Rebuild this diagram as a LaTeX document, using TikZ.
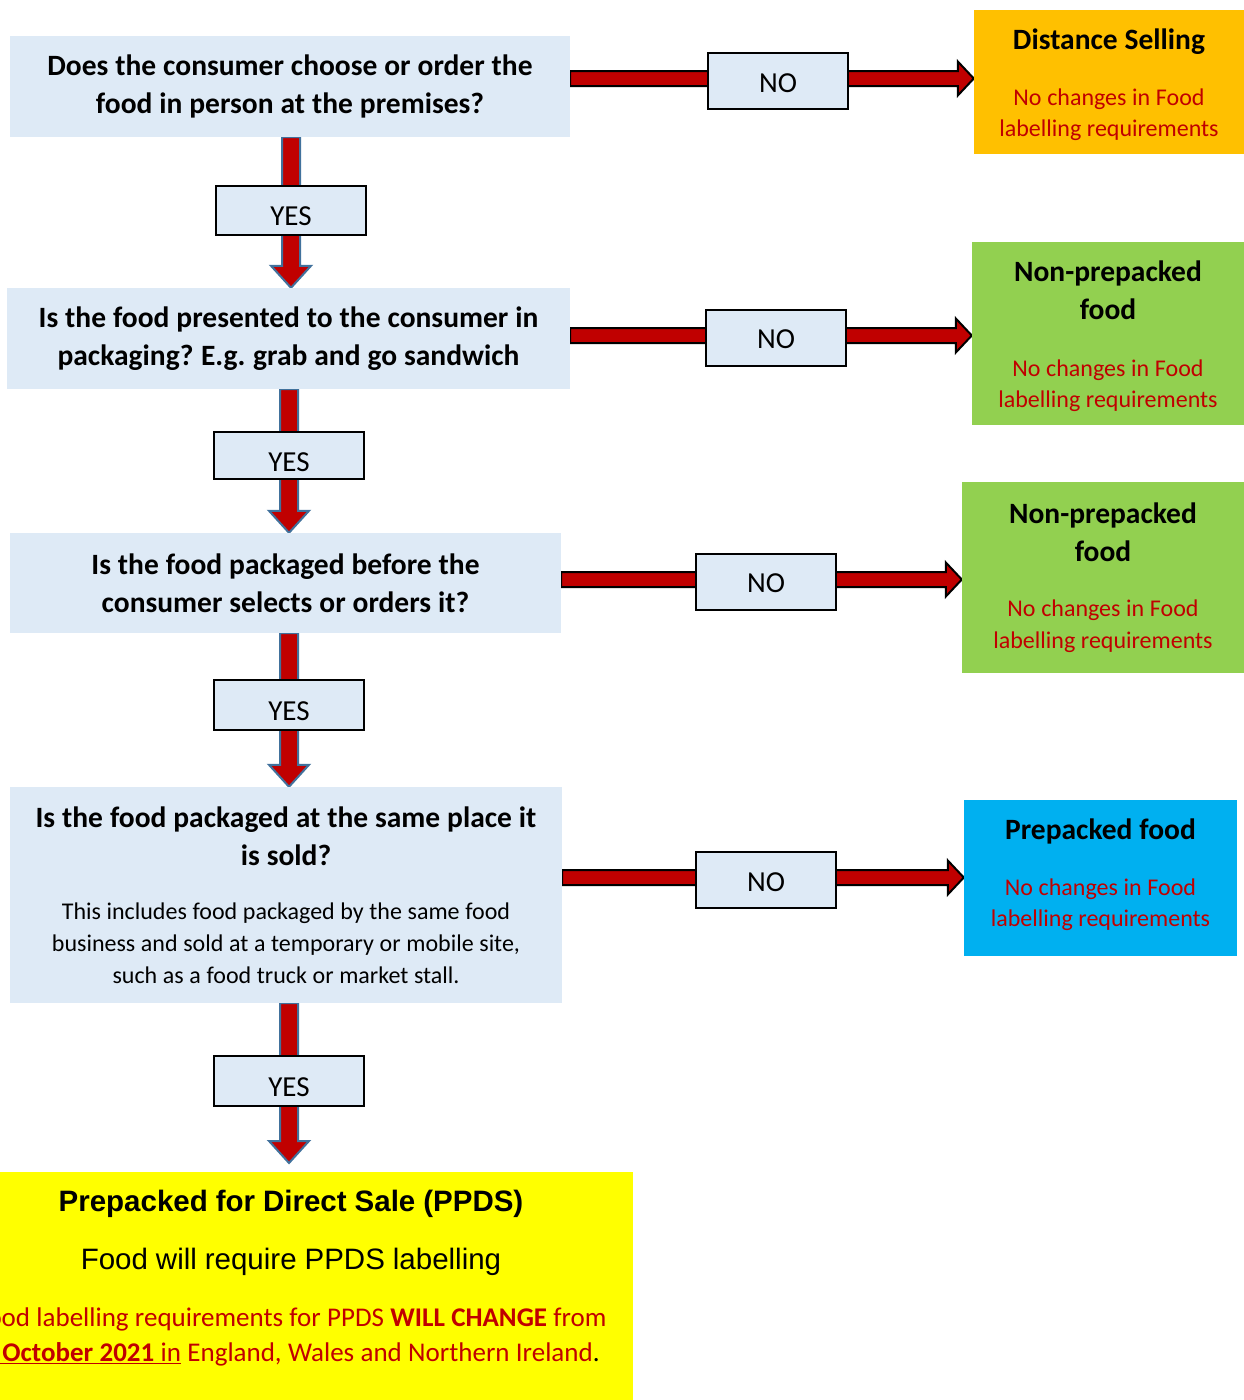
\documentclass[tikz,border=0pt]{standalone}
\usepackage{fontspec}
\setmainfont{Carlito}
\newfontfamily\arialf{Liberation Sans}
\usetikzlibrary{backgrounds,calc}
\definecolor{qblue}{HTML}{DEEAF6}
\definecolor{dred}{HTML}{C00000}
\definecolor{orangebox}{HTML}{FFC000}
\definecolor{greenbox}{HTML}{92D050}
\definecolor{cyanbox}{HTML}{00B0F0}
\definecolor{yellowbox}{HTML}{FFFF00}
\definecolor{outblue}{HTML}{41719C}
\tikzset{
  qbox/.style={fill=qblue, draw=none, inner sep=0pt, align=center},
  answerbox/.style={fill=qblue, draw=black, line width=1.5pt, inner sep=0pt,
    minimum width=140, minimum height=56, text height=20pt, text depth=6pt,
    font=\fontsize{29}{32}\selectfont},
  resbox/.style={draw=none, inner sep=0pt, align=center},
  varrow/.style={fill=dred, draw=outblue, line width=2pt, line join=miter},
  harrow/.style={fill=dred, draw=black, line width=2pt, line join=miter},
}
\newcommand\wordsp{\spaceskip=0.235em\relax\xspaceskip=0.26em\relax}
\newcommand\arialsp{\spaceskip=0.27em\relax\xspaceskip=0.3em\relax}
\newcommand\qtitle{\fontsize{29.5}{38}\selectfont\bfseries\wordsp}
\newcommand\redtxt{\fontsize{24}{31.5}\selectfont\mdseries\color{dred}\wordsp}
\newcommand\lowtxt[2]{\raisebox{-#1pt}{#2}}
\newcommand\topstrut[1]{\rule{0pt}{#1pt}}
\newcommand\botstrut[1]{\rule[-#1pt]{0pt}{#1pt}}
\newcommand\varr[3]{%
  \draw[varrow] let \p1=(#1), \p2=(#2), \p3=(#3) in
  (\x1-9pt,\y2) -- (\x1-9pt,\y3+22pt) -- (\x1-20pt,\y3+22pt) -- (\x1,\y3)
  -- (\x1+20pt,\y3+22pt) -- (\x1+9pt,\y3+22pt) -- (\x1+9pt,\y2) -- cycle;}
\newcommand\harr[3]{%
  \draw[harrow] let \p1=($(#1)+(0,-2.5)$), \p2=(#2), \p3=(#3) in
  (\x2,\y1+7.5pt) -- (\x3-16pt,\y1+7.5pt) -- (\x3-16pt,\y1+17pt) -- (\x3,\y1)
  -- (\x3-16pt,\y1-17pt) -- (\x3-16pt,\y1-7.5pt) -- (\x2,\y1-7.5pt) -- cycle;}
\begin{document}
\begin{tikzpicture}[x=1pt,y=-1pt]
\useasboundingbox (0,0) rectangle (1244,1400);
\begin{scope}
\clip (0,0) rectangle (1244,1400);
% question boxes
\node[qbox, minimum width=560, minimum height=101, text width=556] (q1) at (290,86.5)
  {\qtitle Does the consumer choose or order the\\food in person at the premises?\par};
\node[qbox, minimum width=563, minimum height=101, text width=559] (q2) at (288.5,338.5)
  {\qtitle Is the food presented to the consumer in\\packaging? E.g. grab and go sandwich\par};
\node[qbox, minimum width=551, minimum height=100, text width=547] (q3) at (285.5,583)
  {\qtitle Is the food packaged before the\\consumer selects or orders it?\par};
\node[qbox, minimum width=552, minimum height=216, text width=548] (q4) at (286,895)
  {\qtitle Is the food packaged at the same place it\\is sold?\par\vspace{22pt}
   \fontsize{24}{32}\selectfont\mdseries\wordsp This includes food packaged by the same food\\business and sold at a temporary or mobile site,\\such as a food truck or market stall.\par};
\node[qbox, fill=yellowbox, minimum width=684, minimum height=248, text width=680] (ppds) at (291,1296)
  {{\arialf\fontsize{29.5}{34}\selectfont\bfseries\arialsp Prepacked for Direct Sale (PPDS)\par}\vspace{24pt}
   {\arialf\fontsize{29.5}{34}\selectfont\arialsp Food will require PPDS labelling\par}\vspace{22pt}
   {\fontsize{27}{35}\selectfont\color{dred}\wordsp Food labelling requirements for PPDS \textbf{WILL CHANGE} from\\
   \underline{\textbf{1 October 2021} in} England, Wales and Northern Ireland{\color{black}.}\botstrut{41}\par}};
% YES boxes
\node[answerbox, minimum width=150, minimum height=49] (yes1) at (291,210.5) {\lowtxt{8}{YES}};
\node[answerbox, minimum width=150, minimum height=47] (yes2) at (289,455.5) {\lowtxt{9}{YES}};
\node[answerbox, minimum width=150, minimum height=50] (yes3) at (289,705) {\lowtxt{8}{YES}};
\node[answerbox, minimum width=150, minimum height=50] (yes4) at (289,1081) {\lowtxt{8}{YES}};
% NO boxes
\node[answerbox] (no1) at (778,81) {\lowtxt{4}{NO}};
\node[answerbox] (no2) at (776,338) {\lowtxt{3.5}{NO}};
\node[answerbox] (no3) at (766,582) {\lowtxt{3.5}{NO}};
\node[answerbox] (no4) at (766,880) {\lowtxt{4}{NO}};
% result boxes
\node[resbox, fill=orangebox, minimum width=270, minimum height=144, text width=268] (r1) at (1109,82)
  {\qtitle\topstrut{27}Distance Selling\par\vspace{24pt}\redtxt No changes in Food\\labelling requirements\par};
\node[resbox, fill=greenbox, minimum width=272, minimum height=183, text width=270] (r2) at (1108,333.5)
  {\qtitle\topstrut{27}Non-prepacked\\food\par\vspace{25pt}\redtxt No changes in Food\\labelling requirements\par};
\node[resbox, fill=greenbox, minimum width=282, minimum height=191, text width=280] (r3) at (1103,577.5)
  {\qtitle Non-prepacked\\food\par\vspace{24pt}\redtxt No changes in Food\\labelling requirements\par};
\node[resbox, fill=cyanbox, minimum width=273, minimum height=156, text width=271] (r4) at (1100.5,878)
  {\qtitle Prepacked food\par\vspace{24pt}\redtxt No changes in Food\\labelling requirements\par\vspace{6pt}};
\coordinate (t4) at (290,1163);
\begin{scope}[on background layer]
\varr{yes1}{q1.south}{q2.north}
\varr{yes2}{q2.south}{q3.north}
\varr{yes3}{q3.south}{q4.north}
\varr{yes4}{q4.south}{t4}
\harr{no1}{q1.east}{r1.west}
\harr{no2}{q2.east}{r2.west}
\harr{no3}{q3.east}{r3.west}
\harr{no4}{q4.east}{r4.west}
\end{scope}
\end{scope}
\end{tikzpicture}
\end{document}
